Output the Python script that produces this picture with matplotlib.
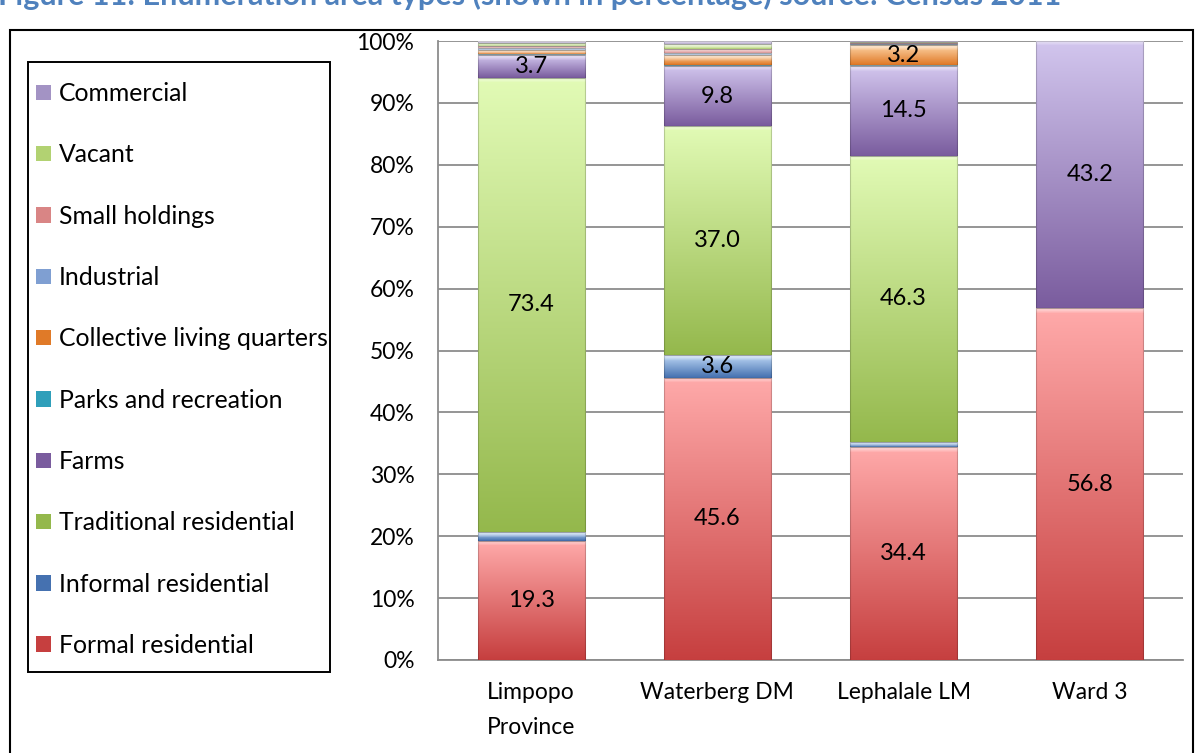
import numpy as np
import matplotlib
matplotlib.use("Agg")
import matplotlib.pyplot as plt
from matplotlib.colors import to_rgb
from matplotlib.patches import Rectangle

plt.rcParams['font.family'] = ['Lato', 'DejaVu Sans']

areas = ["Limpopo\nProvince", "Waterberg DM", "Lephalale LM", "Ward 3"]

# stacked bottom -> top
series = ["Formal residential", "Informal residential", "Traditional residential",
          "Farms", "Parks and recreation", "Collective living quarters",
          "Industrial", "Small holdings", "Vacant", "Commercial"]

formal = [19.3, 45.6, 34.4, 56.8]
informal = [1.4, 3.6, 0.8, 0.0]
traditional = [73.4, 37.0, 46.3, 0.0]
farms = [3.7, 9.8, 14.5, 43.2]
parks = [0.1, 0.2, 0.1, 0.0]
collective = [0.6, 1.5, 3.2, 0.0]
industrial = [0.3, 0.3, 0.2, 0.0]
small_holdings = [0.4, 0.7, 0.2, 0.0]
vacant = [0.5, 0.8, 0.1, 0.0]
commercial = [0.3, 0.5, 0.2, 0.0]

values = [formal, informal, traditional, farms, parks, collective,
          industrial, small_holdings, vacant, commercial]

# (bottom colour, top colour) for the bevel-like gradient
shades = [("#c63f3f", "#ffaaaa"), ("#4571b0", "#bcd6f5"), ("#94b84c", "#e2fbb6"),
          ("#7a5c9e", "#d2c6ee"), ("#2f9fba", "#b4e6f2"), ("#e07a28", "#fdd3a4"),
          ("#7f9fd2", "#d4e2f8"), ("#d98585", "#fccccc"), ("#b2d272", "#eafacc"),
          ("#a393c4", "#e4dcf4")]

FS = 16.5
W, H = 1198, 753
fig = plt.figure(figsize=(W / 100, H / 100), dpi=100)
ax = fig.add_axes([438 / W, 1 - 660 / H, (1183 - 438) / W, (660 - 41) / H])

x = np.arange(len(areas))
px_per_unit = (660 - 41) / 100.0
bottom = np.zeros(len(areas))
handles = []
for name, vals, (dark, light) in zip(series, values, shades):
    vals = np.array(vals)
    bars = ax.bar(x, vals, 0.575, bottom=bottom, color=dark, edgecolor="none",
                  label=name, zorder=2)
    handles.append(bars)
    d = np.array(to_rgb(dark))
    l = np.array(to_rgb(light))
    for rect, v in zip(bars, vals):
        if v <= 0:
            continue
        n = max(int(round(v * px_per_unit)), 2)
        t = np.linspace(0, 1, n)[:, None]
        col = l * (1 - t) + d * t
        hl = np.clip(1 - np.arange(n) / 5.0, 0, 1)[:, None] * 0.6
        col = col * (1 - hl) + hl
        img = np.repeat(col[:, None, :], 8, axis=1)
        x0, y0 = rect.get_x(), rect.get_y()
        im = ax.imshow(img, extent=(x0, x0 + rect.get_width(), y0, y0 + v),
                       aspect="auto", interpolation="bilinear", zorder=3)
        im.set_clip_path(rect)
        ax.add_patch(Rectangle((x0, y0), rect.get_width(), v, fill=False,
                               edgecolor=(0, 0, 0, 0.18), lw=0.8, zorder=4))
        if v >= 3:
            ax.text(rect.get_x() + rect.get_width() / 2, y0 + v / 2, f"{v:.1f}",
                    ha="center", va="center", fontsize=FS + 0.5, color="black",
                    zorder=5)
    bottom += vals

ax.set_xlim(-0.5, 3.5)
ax.set_ylim(0, 100)
ax.set_yticks(np.arange(0, 101, 10))
ax.set_yticklabels([f"{v}%" for v in range(0, 101, 10)], fontsize=FS)
ax.set_xticks(x)
ax.set_xticklabels(areas, fontsize=FS, linespacing=1.8)
ax.tick_params(axis="y", length=0, pad=17)
ax.tick_params(axis="x", length=0, pad=16)
ax.yaxis.grid(True, color="#8c8c8c", lw=1.3, zorder=0)
ax.set_axisbelow(True)
for s in ["top", "right"]:
    ax.spines[s].set_visible(False)
for s in ["left", "bottom"]:
    ax.spines[s].set_color("#8c8c8c")
    ax.spines[s].set_linewidth(1.3)

# legend entries without their own frame; the box is drawn separately
leg = fig.legend(handles[::-1], series[::-1], loc="upper left",
                 bbox_to_anchor=(36 / W, 1 - 82 / H), fontsize=17.8,
                 frameon=False, labelspacing=1.55, handlelength=0.62,
                 handleheight=0.58, handletextpad=0.3, borderpad=0,
                 borderaxespad=0)
for h, (dark, light) in zip(leg.legend_handles, shades[::-1]):
    h.set_facecolor(dark)
fig.add_artist(Rectangle((28 / W, 1 - 672 / H), (330 - 28) / W, (672 - 62) / H,
                         transform=fig.transFigure, fill=False,
                         edgecolor="black", lw=1.4))

# outer frame and heading
fig.add_artist(Rectangle((10 / W, -0.05), (1193 - 10) / W, 1 - 30 / H + 0.05,
                         transform=fig.transFigure, fill=False,
                         edgecolor="black", lw=1.5))
fig.text(-2 / W, 1 - 5 / H,
         "Figure 11: Enumeration area types (shown in percentage) source: Census 2011",
         fontsize=22, fontweight="bold", color="#4f81bd", ha="left", va="baseline")

fig.savefig("out.png", dpi=100)
